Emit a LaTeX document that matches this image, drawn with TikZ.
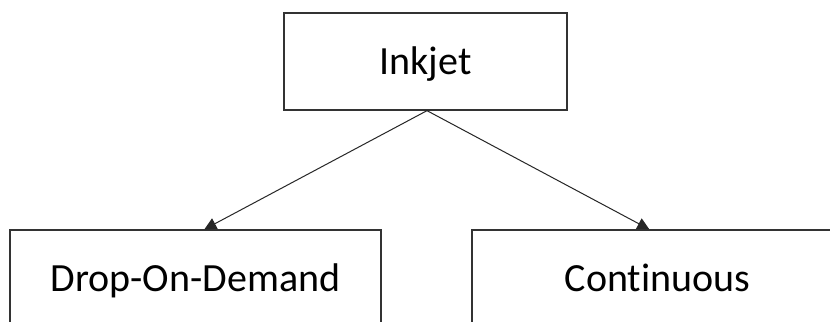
\documentclass[tikz,border=0pt]{standalone}
\usepackage{fontspec}
\setmainfont[RawFeature=-liga]{Carlito}
\usetikzlibrary{arrows.meta}
\begin{document}
\begin{tikzpicture}[x=1bp,y=-1bp,
  box/.style={draw=black!80,line width=1.3bp,rectangle,inner sep=0pt,
    minimum height=97bp,text height=26bp,text depth=0bp,
    font=\fontsize{40bp}{48bp}\selectfont},
  conn/.style={draw=black!85,line width=1bp,-{Triangle[length=12bp,width=12bp]}}]
\useasboundingbox (0,0) rectangle (830,321);
\clip (0,0) rectangle (830,321);
\fill[white] (0,0) rectangle (830,321);
\node[box,minimum width=283bp] (ink) at (425.5,61.5) {Inkjet};
\node[box,minimum width=371bp] (dod) at (195.5,278.5) {Drop-On-Demand};
\node[box,minimum width=371bp] (cont) at (657.5,278.5) {Continuous};
\draw[conn] ([xshift=1.5bp]ink.south) -- ([xshift=195bp]dod.north west);
\draw[conn] ([xshift=1.5bp]ink.south) -- ([xshift=178bp]cont.north west);
\end{tikzpicture}
\end{document}
